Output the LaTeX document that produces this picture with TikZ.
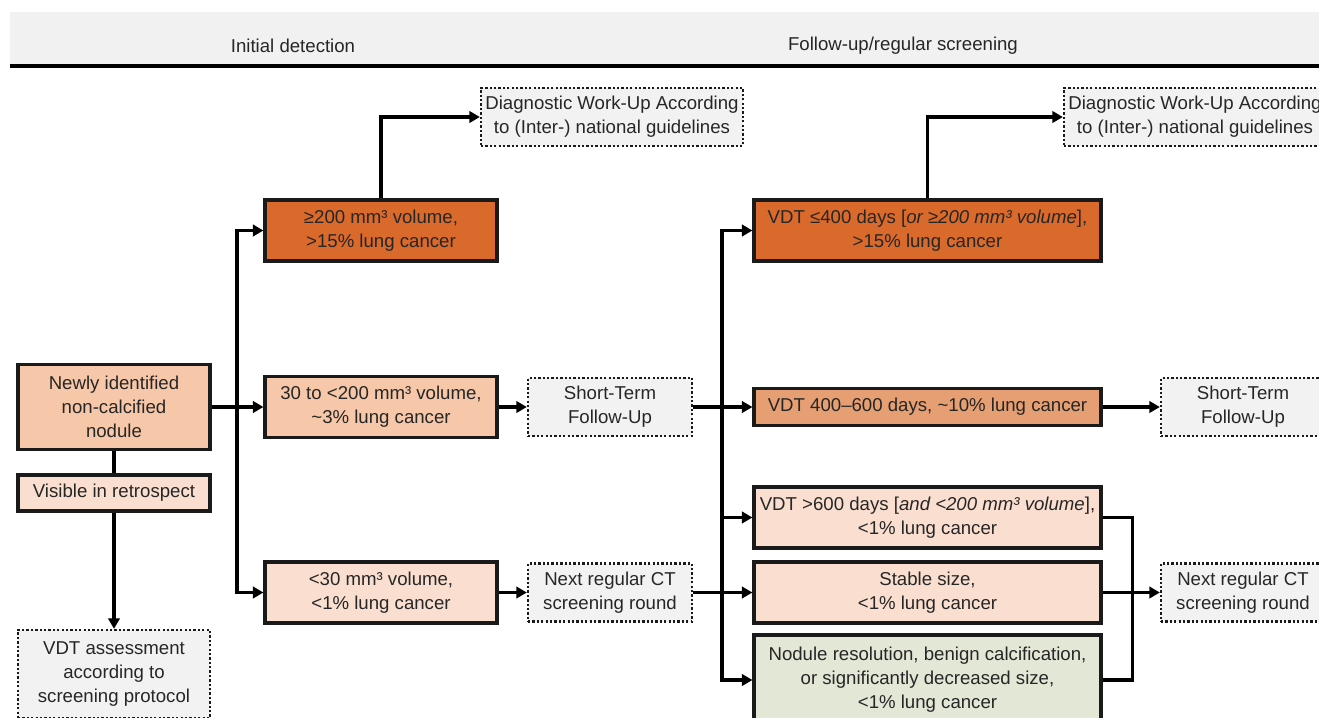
\documentclass[tikz,border=0pt]{standalone}
\usepackage{fontspec}
\setmainfont{Liberation Sans}
\usepackage{tikz}
\usetikzlibrary{arrows.meta,positioning}
\definecolor{hiorange}{HTML}{D96A2B}
\definecolor{midorange}{HTML}{E69F72}
\definecolor{salmon}{HTML}{F6C7A8}
\definecolor{paleorange}{HTML}{FADFD0}
\definecolor{palegreen}{HTML}{E3E7D6}
\definecolor{dotgray}{HTML}{F2F2F2}
\definecolor{headgray}{HTML}{F1F1F1}
\definecolor{txtgray}{HTML}{262626}
\definecolor{boxline}{HTML}{1A1A1A}
\tikzset{
  basebox/.style={rectangle,draw=boxline,line width=1.8pt,align=center,text=txtgray,
    font=\fontsize{10.6}{13.6}\selectfont,inner sep=2pt},
  hibox/.style={basebox,fill=hiorange,minimum height=1.22cm},
  midbox/.style={basebox,fill=midorange,minimum height=0.74cm},
  salbox/.style={basebox,fill=salmon},
  palebox/.style={basebox,fill=paleorange,minimum height=1.22cm},
  greenbox/.style={basebox,fill=palegreen},
  dotbox/.style={basebox,fill=dotgray,line width=1.3pt,dash pattern=on 1.3pt off 1.2pt,
    minimum height=1.16cm},
  headtext/.style={text=txtgray,font=\fontsize{10.6}{13.6}\selectfont},
  arr/.style={-{Triangle[length=6pt,width=6.5pt]},line width=1.9pt,color=black},
  plainline/.style={line width=1.9pt,color=black}
}

\begin{document}
\begin{tikzpicture}[x=0.02cm,y=-0.02cm]
  \useasboundingbox (0,0) rectangle (1319,717);
  % header band
  \fill[headgray] (10,12) rectangle (1319,64);
  \draw[line width=2.4pt] (10,66) -- (1319,66);
  \node[headtext] (hleft) at (293,46) {Initial detection};
  \node[headtext] (hright) at (903,46) {Follow-up/regular screening};

  % initial detection
  \node[salbox,minimum width=3.84cm,minimum height=1.7cm] (new) at (114,407) {Newly identified\\non-calcified\\nodule};
  \node[basebox,fill=paleorange,minimum width=3.84cm,minimum height=0.72cm] (vis) at (114,493) {Visible in retrospect};
  \node[dotbox,minimum width=3.84cm,minimum height=1.76cm] (vdtas) at (114,674) {VDT assessment\\according to\\screening protocol};

  \node[hibox,minimum width=4.64cm] (high) at (381,230.5) {≥200 mm³ volume,\\>15\% lung cancer};
  \node[salbox,minimum width=4.64cm,minimum height=1.22cm] (mid) at (381,407) {30 to <200 mm³ volume,\\\textasciitilde3\% lung cancer};
  \node[palebox,minimum width=4.64cm] (low) at (381,592.5) {<30 mm³ volume,\\<1\% lung cancer};

  \node[dotbox,minimum width=5.24cm] (diag1) at (612,117) {Diagnostic Work-Up According\\to (Inter-) national guidelines};
  \node[dotbox,minimum width=3.28cm] (stfu1) at (610,407) {Short-Term\\Follow-Up};
  \node[dotbox,minimum width=3.28cm] (next1) at (610,592.5) {Next regular CT\\screening round};

  % follow-up
  \node[hibox,minimum width=6.94cm] (vdt1) at (927.5,230.5) {VDT ≤400 days [\textit{or ≥200 mm³ volume}],\\>15\% lung cancer};
  \node[midbox,minimum width=6.94cm] (vdt2) at (927.5,407) {VDT 400--600 days, \textasciitilde10\% lung cancer};
  \node[palebox,minimum width=6.94cm] (vdt3) at (927.5,517.5) {VDT >600 days [\textit{and <200 mm³ volume}],\\<1\% lung cancer};
  \node[palebox,minimum width=6.94cm] (stable) at (927.5,592.5) {Stable size,\\<1\% lung cancer};
  \node[greenbox,minimum width=6.94cm,minimum height=1.8cm] (nodres) at (927.5,680) {Nodule resolution, benign calcification,\\or significantly decreased size,\\<1\% lung cancer};

  \node[dotbox,minimum width=5.24cm] (diag2) at (1195,117) {Diagnostic Work-Up According\\to (Inter-) national guidelines};
  \node[dotbox,minimum width=3.28cm] (stfu2) at (1243,407) {Short-Term\\Follow-Up};
  \node[dotbox,minimum width=3.28cm] (next2) at (1243,592.5) {Next regular CT\\screening round};

  \coordinate (split1) at (237,407);
  \coordinate (split2) at (722,407);

  \draw[plainline] (new) -- (vis);
  \draw[arr] (vis) -- (vdtas);
  \draw[arr] (new.east) -- (mid.west);
  \draw[arr] (split1) |- (high.west);
  \draw[arr] (split1) |- (low.west);
  \draw[arr] (high.north) |- (diag1.west);
  \draw[arr] (mid) -- (stfu1);
  \draw[arr] (low) -- (next1);

  \draw[arr] (stfu1) -- (vdt2);
  \draw[arr] (next1) -- (stable);
  \draw[arr] (split2) |- (vdt1.west);
  \draw[arr] (split2) |- (vdt3.west);
  \draw[arr] (split2) |- (nodres.west);
  \draw[arr] (vdt1.north) |- (diag2.west);
  \draw[arr] (vdt2) -- (stfu2);
  \draw[arr] (stable) -- (next2);
  \draw[plainline] (vdt3.east) -- ++(30,0) |- (nodres.east);
\end{tikzpicture}
\end{document}
